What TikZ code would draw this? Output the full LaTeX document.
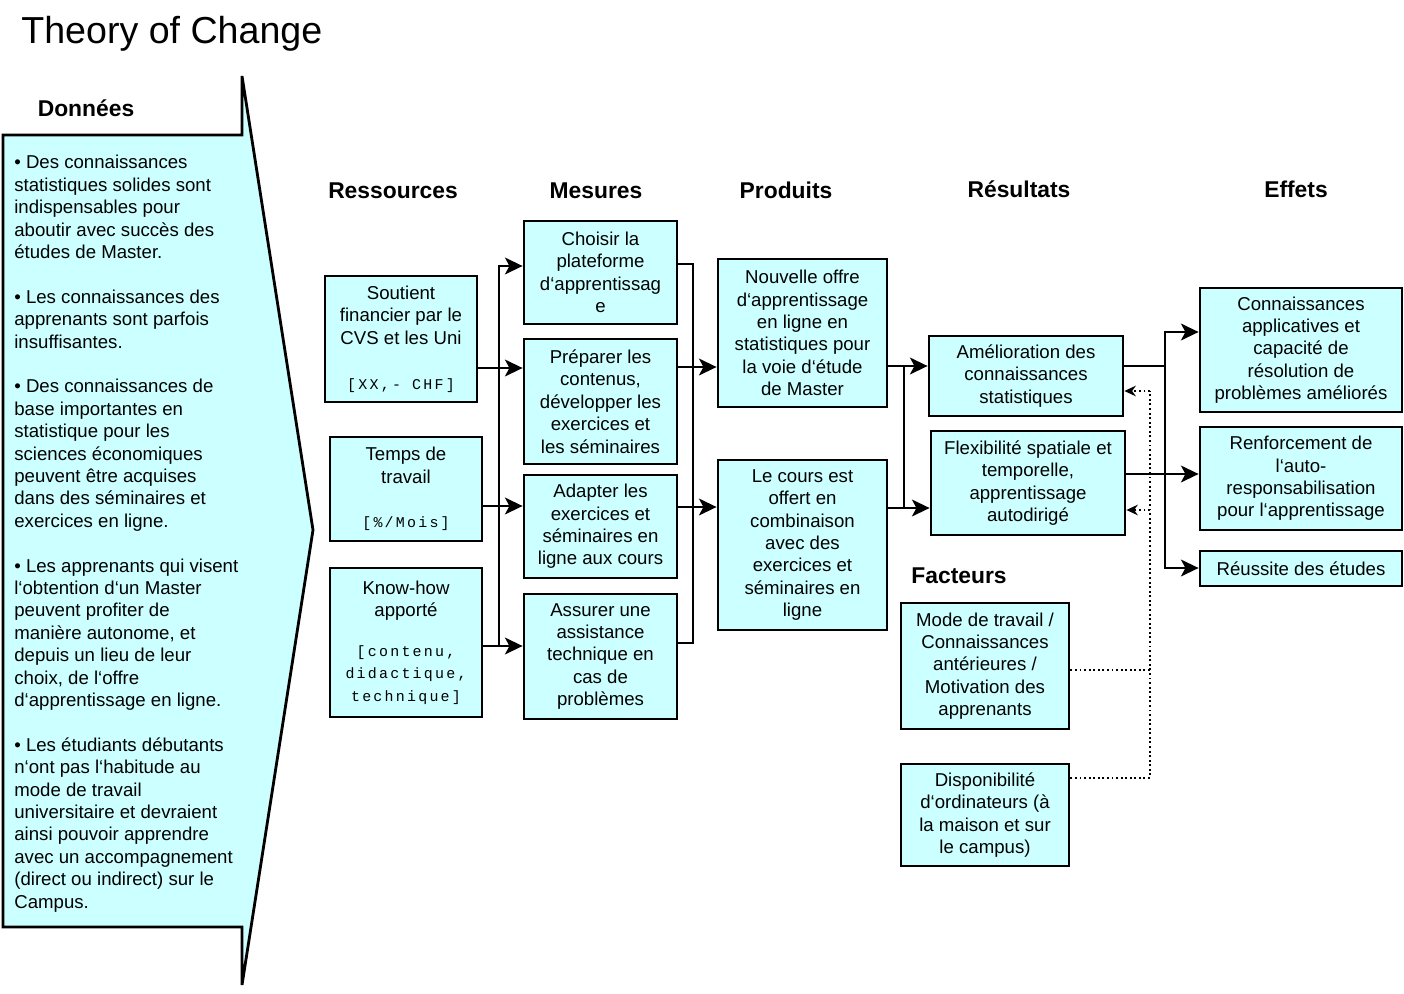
\documentclass[tikz,border=0pt]{standalone}
\usepackage{fontspec}
\setmainfont{Liberation Sans}
\newfontfamily\unitfont[LetterSpace=15]{Liberation Mono}
\usetikzlibrary{arrows.meta}
\definecolor{boxfill}{HTML}{CCFFFF}
\newcommand{\boxsize}{\fontsize{10.6}{12.75}\selectfont}
\newcommand{\headsize}{\fontsize{13}{15.6}\selectfont}
\newcommand{\unittext}[1]{{\unitfont\fontsize{8.5}{12.75}\selectfont #1}}

\begin{document}
\begin{tikzpicture}[
    x=0.02cm, y=-0.02cm,
    box/.style={
      draw, line width=1.6pt, fill=boxfill,
      inner sep=0pt, align=center, font=\boxsize
    },
    head/.style={font=\headsize\bfseries, anchor=base, inner sep=0pt},
    wire/.style={line width=1.6pt, line cap=rect},
    link/.style={wire, -{Stealth[length=10pt,width=9.5pt,inset=2.5pt]}},
    hint/.style={line width=1.2pt, dash pattern=on 1.1pt off 1.5pt},
    hintlink/.style={hint, -{Stealth[length=6.5pt,width=6pt]}},
  ]
    \useasboundingbox (0,0) rectangle (1404,994);

    \node[anchor=base west, font=\fontsize{21.4}{25}\selectfont, inner sep=0pt] (title) at (21,43.5) {Theory of Change};

    % Donnees panel
    \draw[line width=1.6pt, fill=boxfill] (3,135) -- (242,135) -- (242,76) -- (313,530)
      -- (242,985) -- (242,927) -- (3,927) -- cycle;
    \node[head] (hGiven) at (86,116) {Données};
    \node[anchor=north west, align=left, font=\boxsize, inner sep=0pt] (givens) at (14,155) {%
      • Des connaissances\\ statistiques solides sont\\ indispensables pour\\ aboutir avec succès des\\ études de Master.\\[12.75pt]
      • Les connaissances des\\ apprenants sont parfois\\ insuffisantes.\\[12.75pt]
      • Des connaissances de\\ base importantes en\\ statistique pour les\\ sciences économiques\\ peuvent être acquises\\ dans des séminaires et\\ exercices en ligne.\\[12.75pt]
      • Les apprenants qui visent\\ l‘obtention d‘un Master\\ peuvent profiter de\\ manière autonome, et\\ depuis un lieu de leur\\ choix, de l‘offre\\ d‘apprentissage en ligne.\\[12.75pt]
      • Les étudiants débutants\\ n‘ont pas l‘habitude au\\ mode de travail\\ universitaire et devraient\\ ainsi pouvoir apprendre\\ avec un accompagnement\\ (direct ou indirect) sur le\\ Campus.};

    % column heads
    \node[head] (hRess) at (393,198) {Ressources};
    \node[head] (hMes)  at (596,198) {Mesures};
    \node[head] (hProd) at (786,198) {Produits};
    \node[head] (hResu) at (1019,197) {Résultats};
    \node[head] (hEff)  at (1296,197) {Effets};
    \node[head] (hFac)  at (959,583) {Facteurs};

    % Ressources
    \node[box, minimum width=3.04cm, minimum height=2.52cm] (ress1) at (401,339)
      {Soutient\\financier par le\\CVS et les Uni\\[12.75pt]\unittext{[XX,- CHF]}};
    \node[box, minimum width=3.04cm, minimum height=2.08cm] (ress2) at (406,489)
      {Temps de\\travail\\[12.75pt]\unittext{[\%/Mois]}};
    \node[box, minimum width=3.04cm, minimum height=2.98cm] (ress3) at (406,642.5)
      {Know-how\\apporté\\[10pt]\unittext{[contenu,}\\\unittext{didactique,}\\\unittext{technique]}};

    % Mesures
    \node[box, minimum width=3.06cm, minimum height=2.06cm] (mes1) at (600.5,272.5)
      {Choisir la\\plateforme\\d‘apprentissag\\e};
    \node[box, minimum width=3.06cm, minimum height=2.5cm] (mes2) at (600.5,401.5)
      {Préparer les\\contenus,\\développer les\\exercices et\\les séminaires};
    \node[box, minimum width=3.06cm, minimum height=2.06cm] (mes3) at (600.5,526.5)
      {Adapter les\\exercices et\\séminaires en\\ligne aux cours};
    \node[box, minimum width=3.06cm, minimum height=2.5cm] (mes4) at (600.5,656.5)
      {Assurer une\\assistance\\technique en\\cas de\\problèmes};

    % Produits
    \node[box, minimum width=3.38cm, minimum height=2.96cm] (prod1) at (802.5,333)
      {Nouvelle offre\\d‘apprentissage\\en ligne en\\statistiques pour\\la voie d‘étude\\de Master};
    \node[box, minimum width=3.38cm, minimum height=3.4cm] (prod2) at (802.5,545)
      {Le cours est\\offert en\\combinaison\\avec des\\exercices et\\séminaires en\\ligne};

    % Resultats
    \node[box, minimum width=3.88cm, minimum height=1.6cm] (resu1) at (1026,376)
      {Amélioration des\\connaissances\\statistiques};
    \node[box, minimum width=3.88cm, minimum height=2.08cm] (resu2) at (1028,483)
      {Flexibilité spatiale et\\temporelle,\\apprentissage\\autodirigé};

    % Effets
    \node[box, minimum width=4.04cm, minimum height=2.48cm] (eff1) at (1301,350)
      {Connaissances\\applicatives et\\capacité de\\résolution de\\problèmes améliorés};
    \node[box, minimum width=4.04cm, minimum height=2.06cm] (eff2) at (1301,478.5)
      {Renforcement de\\l‘auto-\\responsabilisation\\pour l‘apprentissage};
    \node[box, minimum width=4.04cm, minimum height=0.7cm] (eff3) at (1301,568.5)
      {Réussite des études};

    % Facteurs
    \node[box, minimum width=3.36cm, minimum height=2.52cm] (fac1) at (985,666)
      {Mode de travail /\\Connaissances\\antérieures /\\Motivation des\\apprenants};
    \node[box, minimum width=3.36cm, minimum height=2.04cm] (fac2) at (985,815)
      {Disponibilité\\d‘ordinateurs (à\\la maison et sur\\le campus)};

    % bus junctions
    \coordinate (jA1) at (499,266);  \coordinate (jA2) at (499,368);
    \coordinate (jA3) at (499,506);  \coordinate (jA4) at (499,646);
    \coordinate (jB1) at (693,264);  \coordinate (jB2) at (693,367);
    \coordinate (jB3) at (693,507);  \coordinate (jB4) at (693,643);
    \coordinate (jC1) at (904,366);  \coordinate (jC2) at (904,508);
    \coordinate (jD1) at (1165,332); \coordinate (jD2) at (1165,366);
    \coordinate (jD3) at (1165,568); \coordinate (jD4) at (1165,474);
    \coordinate (jF1) at (1150,391); \coordinate (jF2) at (1150,510);
    \coordinate (jF3) at (1150,670); \coordinate (jF4) at (1150,778);

    % Ressources -> Mesures
    \draw[wire] (jA1) -- (jA4);
    \foreach \a/\j in {ress1/jA2,ress2/jA3,ress3/jA4}{
      \draw[wire] (\a.east |- \j) -- (\j);
    }
    \foreach \j/\b in {jA1/mes1,jA2/mes2,jA3/mes3,jA4/mes4}{
      \draw[link] (\j) -- (\b.west |- \j);
    }

    % Mesures -> Produits
    \draw[wire] (jB1) -- (jB4);
    \foreach \a/\j in {mes1/jB1,mes2/jB2,mes3/jB3,mes4/jB4}{
      \draw[wire] (\a.east |- \j) -- (\j);
    }
    \draw[link] (jB2) -- (prod1.west |- jB2);
    \draw[link] (jB3) -- (prod2.west |- jB3);

    % Produits -> Resultats
    \draw[wire] (jC1) -- (jC2);
    \foreach \a/\b/\j in {prod1/resu1/jC1,prod2/resu2/jC2}{
      \draw[wire] (\a.east |- \j) -- (\j);
      \draw[link] (\j) -- (\b.west |- \j);
    }

    % Resultats -> Effets
    \draw[wire] (resu1.east |- jD2) -- (jD2);
    \draw[wire] (jD1) -- (jD3);
    \draw[link] (jD1) -- (eff1.west |- jD1);
    \draw[link] (jD3) -- (eff3.west |- jD3);
    \draw[link] (resu2.east |- jD4) -- (eff2.west |- jD4);

    % Facteurs
    \draw[hint] (fac1.east |- jF3) -- (jF3);
    \draw[hint] (fac2.east |- jF4) -- (jF4) -- (jF1);
    \draw[hintlink] (jF1) -- (resu1.east |- jF1);
    \draw[hintlink] (jF2) -- (resu2.east |- jF2);
  \end{tikzpicture}
\end{document}
